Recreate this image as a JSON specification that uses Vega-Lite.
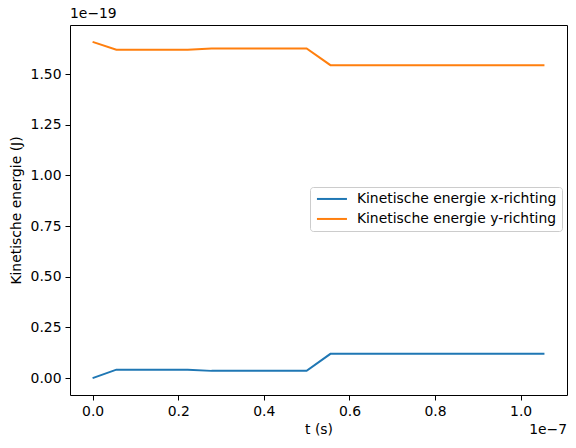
{
  "$schema": "https://vega.github.io/schema/vega-lite/v6.json",
  "width": 497,
  "height": 370,
  "autosize": {"type": "none"},
  "padding": {"left": 70, "top": 25, "right": 9, "bottom": 53},
  "background": "white",
  "title": {
    "text": "1e\u221219",
    "anchor": "start",
    "frame": "group",
    "font": "DejaVu Sans",
    "fontSize": 13.9,
    "fontWeight": "normal",
    "color": "black",
    "offset": 4
  },
  "layer": [
    {
      "data": {
        "values": [
          {"t": 0, "E": 0, "serie": "Kinetische energie x-richting"},
          {"t": 5.556e-9, "E": 4.2e-21, "serie": "Kinetische energie x-richting"},
          {"t": 1.111e-8, "E": 4.2e-21, "serie": "Kinetische energie x-richting"},
          {"t": 1.667e-8, "E": 4.2e-21, "serie": "Kinetische energie x-richting"},
          {"t": 2.222e-8, "E": 4.2e-21, "serie": "Kinetische energie x-richting"},
          {"t": 2.778e-8, "E": 3.6e-21, "serie": "Kinetische energie x-richting"},
          {"t": 3.333e-8, "E": 3.6e-21, "serie": "Kinetische energie x-richting"},
          {"t": 3.889e-8, "E": 3.6e-21, "serie": "Kinetische energie x-richting"},
          {"t": 4.444e-8, "E": 3.6e-21, "serie": "Kinetische energie x-richting"},
          {"t": 5.0e-8, "E": 3.6e-21, "serie": "Kinetische energie x-richting"},
          {"t": 5.556e-8, "E": 1.2e-20, "serie": "Kinetische energie x-richting"},
          {"t": 6.111e-8, "E": 1.2e-20, "serie": "Kinetische energie x-richting"},
          {"t": 6.667e-8, "E": 1.2e-20, "serie": "Kinetische energie x-richting"},
          {"t": 7.222e-8, "E": 1.2e-20, "serie": "Kinetische energie x-richting"},
          {"t": 7.778e-8, "E": 1.2e-20, "serie": "Kinetische energie x-richting"},
          {"t": 8.333e-8, "E": 1.2e-20, "serie": "Kinetische energie x-richting"},
          {"t": 8.889e-8, "E": 1.2e-20, "serie": "Kinetische energie x-richting"},
          {"t": 9.444e-8, "E": 1.2e-20, "serie": "Kinetische energie x-richting"},
          {"t": 1.0e-7, "E": 1.2e-20, "serie": "Kinetische energie x-richting"},
          {"t": 1.0556e-7, "E": 1.2e-20, "serie": "Kinetische energie x-richting"},
          {"t": 0, "E": 1.659e-19, "serie": "Kinetische energie y-richting"},
          {"t": 5.556e-9, "E": 1.62e-19, "serie": "Kinetische energie y-richting"},
          {"t": 1.111e-8, "E": 1.62e-19, "serie": "Kinetische energie y-richting"},
          {"t": 1.667e-8, "E": 1.62e-19, "serie": "Kinetische energie y-richting"},
          {"t": 2.222e-8, "E": 1.62e-19, "serie": "Kinetische energie y-richting"},
          {"t": 2.778e-8, "E": 1.626e-19, "serie": "Kinetische energie y-richting"},
          {"t": 3.333e-8, "E": 1.626e-19, "serie": "Kinetische energie y-richting"},
          {"t": 3.889e-8, "E": 1.626e-19, "serie": "Kinetische energie y-richting"},
          {"t": 4.444e-8, "E": 1.626e-19, "serie": "Kinetische energie y-richting"},
          {"t": 5.0e-8, "E": 1.626e-19, "serie": "Kinetische energie y-richting"},
          {"t": 5.556e-8, "E": 1.544e-19, "serie": "Kinetische energie y-richting"},
          {"t": 6.111e-8, "E": 1.544e-19, "serie": "Kinetische energie y-richting"},
          {"t": 6.667e-8, "E": 1.544e-19, "serie": "Kinetische energie y-richting"},
          {"t": 7.222e-8, "E": 1.544e-19, "serie": "Kinetische energie y-richting"},
          {"t": 7.778e-8, "E": 1.544e-19, "serie": "Kinetische energie y-richting"},
          {"t": 8.333e-8, "E": 1.544e-19, "serie": "Kinetische energie y-richting"},
          {"t": 8.889e-8, "E": 1.544e-19, "serie": "Kinetische energie y-richting"},
          {"t": 9.444e-8, "E": 1.544e-19, "serie": "Kinetische energie y-richting"},
          {"t": 1.0e-7, "E": 1.544e-19, "serie": "Kinetische energie y-richting"},
          {"t": 1.0556e-7, "E": 1.544e-19, "serie": "Kinetische energie y-richting"}
        ]
      },
      "mark": {"type": "line", "strokeWidth": 2, "clip": true},
      "encoding": {
        "x": {
          "field": "t",
          "type": "quantitative",
          "title": "t (s)",
          "scale": {"domain": [-5.28e-9, 1.1083e-7], "nice": false, "zero": false},
          "axis": {
            "values": [0, 2e-8, 4e-8, 6e-8, 8e-8, 1e-7],
            "labelExpr": "format(datum.value * 1e7, '.1f')"
          }
        },
        "y": {
          "field": "E",
          "type": "quantitative",
          "title": "Kinetische energie (J)",
          "scale": {"domain": [-8.3e-21, 1.742e-19], "nice": false, "zero": false},
          "axis": {
            "values": [0, 2.5e-20, 5e-20, 7.5e-20, 1e-19, 1.25e-19, 1.5e-19],
            "labelExpr": "format(datum.value * 1e19, '.2f')"
          }
        },
        "color": {
          "field": "serie",
          "type": "nominal",
          "title": null,
          "scale": {"range": ["#1f77b4", "#ff7f0e"]},
          "legend": {
            "orient": "none",
            "legendX": 240,
            "legendY": 162,
            "symbolType": "M-3,0H3",
            "symbolSize": 100,
            "symbolStrokeWidth": 2,
            "symbolOffset": 10,
            "labelFont": "DejaVu Sans",
            "labelFontSize": 13.9,
            "labelColor": "black",
            "labelLimit": 0,
            "labelOffset": 18,
            "padding": 5,
            "rowPadding": 5,
            "strokeColor": "#cccccc",
            "cornerRadius": 3,
            "fillColor": "white"
          }
        }
      }
    },
    {
      "data": {"values": [{"lbl": "1e\u22127"}]},
      "mark": {
        "type": "text",
        "align": "right",
        "baseline": "middle",
        "dy": 35,
        "font": "DejaVu Sans",
        "fontSize": 13.9,
        "color": "black"
      },
      "encoding": {
        "text": {"field": "lbl"},
        "x": {"datum": 1.1083e-7, "type": "quantitative"},
        "y": {"datum": -8.3e-21, "type": "quantitative"}
      }
    }
  ],
  "config": {
    "view": {"stroke": "black", "strokeWidth": 1},
    "axis": {
      "grid": false,
      "domain": false,
      "tickColor": "black",
      "tickSize": 5,
      "labelFont": "DejaVu Sans",
      "labelFontSize": 13.9,
      "labelColor": "black",
      "labelPadding": 4,
      "titleFont": "DejaVu Sans",
      "titleFontSize": 13.9,
      "titleFontWeight": "normal",
      "titleColor": "black"
    },
    "axisX": {"titlePadding": 5},
    "axisY": {"titlePadding": 7}
  }
}
